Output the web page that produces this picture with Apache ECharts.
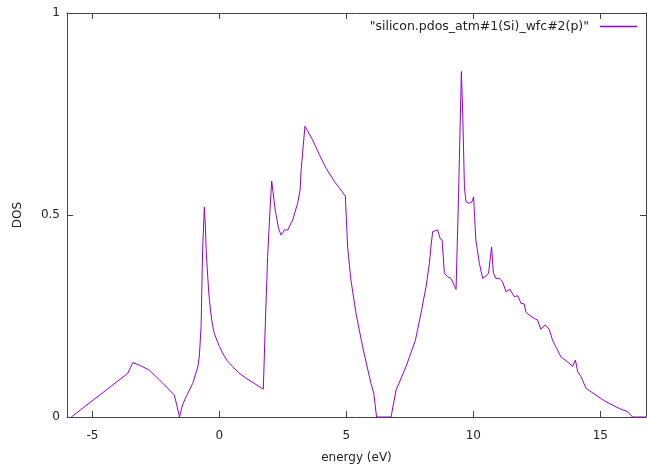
<!DOCTYPE html>
<html><head><meta charset="utf-8">
<script src="https://cdn.jsdelivr.net/npm/echarts@6/dist/echarts.min.js"></script>
<style>html,body{margin:0;padding:0;background:#fff}#c{width:647px;height:468px}</style>
</head><body><div id="c"></div>
<script>
const seriesName = '"silicon.pdos_atm#1(Si)_wfc#2(p)"';
const xTitle = 'energy (eV)';
const yTitle = 'DOS';
const xTicks = [-5, 0, 5, 10, 15];
const yTicks = [0, 0.5, 1];
const yTickLabels = ['0', '0.5', '1'];
const energy = [-5.83,-3.61,-3.5,-3.41,-3.1,-2.76,-2.36,-1.97,-1.77,-1.68,-1.57,-1.45,-1.31,-1.05,-0.85,-0.79,-0.72,-0.66,-0.59,-0.55,-0.52,-0.48,-0.45,-0.42,-0.39,-0.35,-0.3,-0.25,-0.2,-0.1,0.0,0.13,0.3,0.52,0.75,1.05,1.4,1.73,1.81,1.9,2.0,2.06,2.2,2.33,2.43,2.5,2.56,2.69,2.89,3.08,3.18,3.22,3.37,3.67,3.94,4.2,4.53,4.96,5.05,5.18,5.38,5.64,5.97,6.08,6.19,6.76,6.96,7.35,7.72,7.94,8.14,8.27,8.33,8.4,8.6,8.69,8.77,8.86,8.99,9.12,9.32,9.42,9.53,9.58,9.65,9.71,9.84,9.95,10.01,10.1,10.24,10.37,10.5,10.6,10.72,10.79,10.89,11.02,11.15,11.29,11.44,11.61,11.75,11.88,12.0,12.07,12.2,12.4,12.53,12.66,12.83,12.99,13.12,13.28,13.45,13.78,13.91,14.02,14.11,14.24,14.44,14.83,15.22,15.75,16.08,16.27,16.8];
const dos = [0,0.108,0.122,0.135,0.127,0.116,0.092,0.067,0.054,0.03,0,0.03,0.05,0.083,0.124,0.149,0.224,0.413,0.52,0.47,0.413,0.37,0.34,0.31,0.29,0.265,0.24,0.222,0.207,0.19,0.175,0.158,0.14,0.125,0.11,0.096,0.082,0.069,0.232,0.397,0.52,0.584,0.512,0.467,0.45,0.452,0.463,0.463,0.488,0.529,0.562,0.611,0.72,0.686,0.649,0.616,0.583,0.547,0.421,0.339,0.257,0.174,0.083,0.059,0,0,0.067,0.125,0.19,0.257,0.323,0.38,0.421,0.459,0.463,0.442,0.438,0.356,0.347,0.343,0.316,0.554,0.855,0.76,0.57,0.533,0.529,0.533,0.545,0.438,0.38,0.343,0.349,0.356,0.421,0.356,0.343,0.343,0.335,0.31,0.316,0.298,0.3,0.281,0.28,0.261,0.252,0.244,0.24,0.217,0.228,0.217,0.19,0.17,0.149,0.133,0.125,0.141,0.112,0.1,0.071,0.054,0.038,0.021,0.013,0,0];

const FONT = 'DejaVu Sans';
const AX = '#444';
const TXT = '#222';
const chart = echarts.init(document.getElementById('c'), null, {renderer: 'canvas'});
const pts = energy.map((e, i) => [e, dos[i]]);
const tickStyle = {show: true, inside: true, length: 6, lineStyle: {color: AX, width: 1}};
chart.setOption({
  animation: false,
  backgroundColor: '#fff',
  grid: {left: 67, right: 1, top: 13, bottom: 51, show: false, containLabel: false, outerBoundsMode: 'none'},
  legend: {
    show: true, right: 10, top: 20, padding: 0, align: 'right', icon: 'rect',
    itemWidth: 37, itemHeight: 1.5,
    textStyle: {fontFamily: FONT, fontSize: 12.5, color: TXT, padding: [0, 6, 0, 0]},
    data: [seriesName]
  },
  xAxis: [{
    type: 'value', min: -6, max: 16.8, position: 'bottom',
    axisLine: {show: true, onZero: false, lineStyle: {color: AX, width: 1}},
    axisTick: Object.assign({customValues: xTicks}, tickStyle),
    axisLabel: {customValues: xTicks, fontFamily: FONT, fontSize: 12, color: TXT, margin: 13},
    splitLine: {show: false},
    name: xTitle, nameLocation: 'middle', nameGap: 35,
    nameTextStyle: {fontFamily: FONT, fontSize: 12, color: TXT}
  }, {
    type: 'value', min: -6, max: 16.8, position: 'top',
    axisLine: {show: true, onZero: false, lineStyle: {color: AX, width: 1}},
    axisTick: Object.assign({customValues: xTicks}, tickStyle),
    axisLabel: {show: false}, splitLine: {show: false}
  }],
  yAxis: [{
    type: 'value', min: 0, max: 1, position: 'left',
    axisLine: {show: true, onZero: false, lineStyle: {color: AX, width: 1}},
    axisTick: Object.assign({customValues: yTicks}, tickStyle),
    axisLabel: {customValues: yTicks, fontFamily: FONT, fontSize: 12, color: TXT, margin: 7,
      formatter: v => yTickLabels[yTicks.indexOf(v)] ?? String(v)},
    splitLine: {show: false},
    name: yTitle, nameLocation: 'middle', nameGap: 43, nameRotate: 90,
    nameTextStyle: {fontFamily: FONT, fontSize: 12, color: TXT}
  }, {
    type: 'value', min: 0, max: 1, position: 'right',
    axisLine: {show: true, onZero: false, lineStyle: {color: AX, width: 1}},
    axisTick: Object.assign({customValues: yTicks}, tickStyle),
    axisLabel: {show: false}, splitLine: {show: false}
  }],
  series: [{
    name: seriesName, type: 'line', xAxisIndex: 0, yAxisIndex: 0,
    data: pts, showSymbol: false, symbol: 'none', smooth: false,
    lineStyle: {color: '#9400d3', width: 1},
    itemStyle: {color: '#9400d3'},
    clip: true
  }]
});
</script></body></html>
